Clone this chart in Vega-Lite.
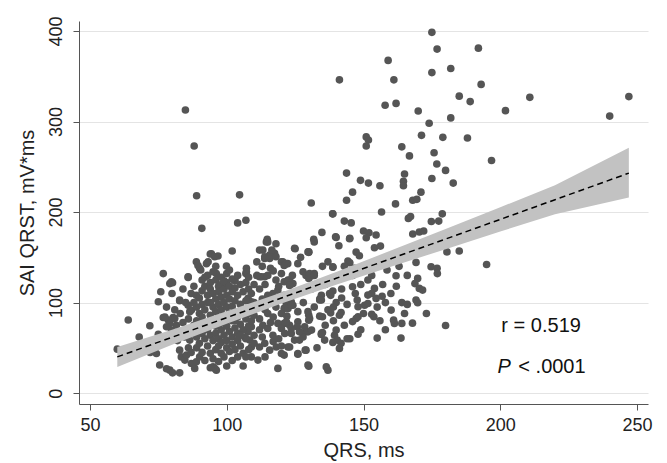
{
"$schema":"https://vega.github.io/schema/vega-lite/v6.json",
"width":569,"height":383,
"autosize":{"type":"none"},
"padding":{"left":79,"top":21,"right":19,"bottom":59},
"config":{"view":{"stroke":null},"font":"Liberation Sans"},
"datasets":{
"pts":[
{"x":84.9,"y":312.7},{"x":88.1,"y":273},{"x":89,"y":218},{"x":90.9,"y":182},{"x":104.7,"y":219},{"x":104,"y":188},{"x":107,"y":191},{"x":130.9,"y":210},{"x":138.8,"y":198},{"x":134.8,"y":177.5},{"x":141.2,"y":346},{"x":114.8,"y":170},{"x":131.8,"y":170},{"x":139.8,"y":172.7},
{"x":159,"y":367.5},{"x":161.1,"y":346},{"x":157.9,"y":318},{"x":161.9,"y":320},{"x":170,"y":311.6},{"x":175,"y":398.5},{"x":176.9,"y":380},{"x":175,"y":354},{"x":181.9,"y":358.5},{"x":192,"y":381},{"x":193,"y":341},{"x":185,"y":328},{"x":189,"y":322},{"x":181.9,"y":304},{"x":174,"y":298},{"x":201.9,"y":312},{"x":210.8,"y":326.7},{"x":240,"y":306},{"x":247,"y":327.5},
{"x":151,"y":283},{"x":151.8,"y":279.6},{"x":151,"y":273},{"x":164,"y":272},{"x":166.8,"y":262},{"x":171.2,"y":284.7},{"x":179,"y":282.5},{"x":188,"y":281.8},{"x":175.8,"y":265.5},{"x":176.8,"y":253},{"x":180,"y":246},{"x":182.8,"y":232},{"x":196.8,"y":257},{"x":175,"y":237},
{"x":143.8,"y":243},{"x":148.9,"y":235},{"x":151.8,"y":232},{"x":156,"y":229},{"x":146,"y":222},{"x":143.8,"y":213},{"x":165,"y":242},{"x":164.6,"y":234},{"x":164.6,"y":229},{"x":171,"y":222},{"x":168,"y":213},{"x":169.5,"y":214},{"x":161.7,"y":209},{"x":156.6,"y":200},{"x":178.8,"y":198},{"x":166.4,"y":193},{"x":167.2,"y":195},{"x":174.8,"y":189.5},{"x":177.5,"y":190},{"x":138.7,"y":198},{"x":143,"y":190},{"x":145.5,"y":188},{"x":140,"y":172},{"x":145,"y":171},{"x":150,"y":179},{"x":152,"y":177},{"x":154.6,"y":174.6},{"x":151,"y":171.6},{"x":168,"y":175.7},{"x":170.4,"y":178},{"x":172,"y":179},
{"x":141,"y":162.8},{"x":125,"y":159.5},{"x":130,"y":155.5},{"x":144.9,"y":170.5},{"x":147.3,"y":155.8},{"x":154,"y":160.6},{"x":156.2,"y":162.4},{"x":180.5,"y":156},{"x":185,"y":157},
{"x":122.3,"y":143},{"x":126,"y":143},{"x":127.9,"y":134},{"x":129,"y":130},{"x":130,"y":126.7},{"x":131.5,"y":130},{"x":138.8,"y":139},{"x":144.3,"y":146},{"x":145,"y":144},{"x":146.7,"y":137.8},{"x":148.5,"y":151.7},{"x":141.2,"y":126},{"x":142,"y":127.5},{"x":146,"y":117.5},{"x":151.6,"y":125},{"x":154,"y":115.7},{"x":153,"y":110},{"x":151.6,"y":108.3},{"x":154.6,"y":104.6},{"x":156.8,"y":107},{"x":147.7,"y":102.8},{"x":148,"y":95.4},{"x":150.4,"y":97},{"x":151.6,"y":99},{"x":161.9,"y":129.6},{"x":158.6,"y":136},{"x":169.2,"y":144.4},{"x":169.8,"y":126.7},{"x":168.8,"y":121},{"x":170.4,"y":115.7},{"x":171.6,"y":113.8},{"x":174.7,"y":139.6},{"x":176.9,"y":137.8},{"x":177,"y":132},{"x":195,"y":142},{"x":166,"y":98},{"x":169.2,"y":102.8},{"x":169.8,"y":99.8},{"x":173,"y":88},{"x":160.1,"y":91.7},{"x":153,"y":87},{"x":153.8,"y":84.3},{"x":161,"y":80.6},{"x":161.3,"y":77},{"x":164,"y":77},{"x":167.9,"y":77.3},{"x":180,"y":74.7},{"x":155,"y":60.8},{"x":163.7,"y":60.8},{"x":146,"y":79},{"x":147.3,"y":82.4},{"x":148,"y":84.3},{"x":138,"y":88.7},{"x":141.2,"y":86},{"x":141.8,"y":89},{"x":134.6,"y":64.8},{"x":135,"y":67},{"x":140,"y":69.6},{"x":139.4,"y":64},{"x":140.4,"y":58.6},{"x":141.8,"y":55},{"x":141.2,"y":49.4},{"x":138.8,"y":56},{"x":137,"y":25.4},{"x":130,"y":29.8},{"x":126,"y":43},{"x":128.7,"y":47.5},{"x":123,"y":51},{"x":121,"y":42},{"x":130,"y":86},{"x":130,"y":80.6},{"x":134,"y":104},{"x":138,"y":108},{"x":138.8,"y":112.7},{"x":123.6,"y":101},{"x":124.2,"y":97},{"x":121,"y":93.6},{"x":121,"y":77},{"x":123,"y":75},{"x":126,"y":78.8},{"x":125.8,"y":73.3},{"x":123.6,"y":66},{"x":127.9,"y":66},{"x":129.7,"y":67.7},{"x":131,"y":69.6},{"x":126.6,"y":58.6},{"x":127.9,"y":62},{"x":134.6,"y":108},
{"x":60,"y":48.6},{"x":64,"y":80.7},{"x":71.9,"y":74.4},{"x":75,"y":101},{"x":75.9,"y":112},{"x":76.8,"y":132},{"x":79.2,"y":121},{"x":80.2,"y":121.9},{"x":82.8,"y":102},{"x":85.9,"y":128.5},{"x":88.9,"y":145},{"x":90.1,"y":137.8},{"x":92.6,"y":143},{"x":94,"y":153.6},{"x":96.8,"y":151.4},{"x":102,"y":157},{"x":99.9,"y":140.3},{"x":107.2,"y":137.8},{"x":107,"y":132},{"x":103,"y":124.9},{"x":112,"y":158},{"x":114.5,"y":167},{"x":118,"y":165},{"x":117.5,"y":154.3},{"x":115.7,"y":150},{"x":113.9,"y":148.8},{"x":120.5,"y":145},{"x":121.8,"y":143},{"x":124.8,"y":160},{"x":130,"y":156},{"x":132,"y":167},{"x":112.7,"y":128.5},{"x":113.9,"y":128.5},{"x":121,"y":123},{"x":123,"y":125},{"x":124.2,"y":121},{"x":130.3,"y":128.5},{"x":132,"y":132},{"x":134.6,"y":102.8},{"x":137.6,"y":110},{"x":138.8,"y":139.5},
{"x":75.5,"y":31},{"x":79.2,"y":25.4},{"x":80.2,"y":22.4},{"x":82.8,"y":22.4},{"x":74.3,"y":43.8},{"x":73.5,"y":53},{"x":76.8,"y":83.6},{"x":78.6,"y":80.7},{"x":80.4,"y":83.6},{"x":81.6,"y":75},{"x":79.8,"y":69.6},{"x":79.2,"y":77},{"x":78,"y":73.3},{"x":82.8,"y":47.5},{"x":83.4,"y":40},{"x":84.7,"y":36.5},{"x":85.3,"y":42},{"x":87.1,"y":32.8},{"x":88.3,"y":27.3},{"x":88.9,"y":34.6},{"x":90.1,"y":40},{"x":95,"y":29},{"x":96.2,"y":25.4},{"x":84.7,"y":62},{"x":86.5,"y":58.6},{"x":87.7,"y":66},{"x":85.3,"y":69.6},{"x":88.9,"y":69.6},
{"x":94.4,"y":154},{"x":95.6,"y":150.6},{"x":93.2,"y":145},{"x":89.5,"y":141},{"x":90.5,"y":136},{"x":96.2,"y":132},{"x":85.9,"y":127.8},{"x":102.9,"y":124},{"x":79.8,"y":123},{"x":107.2,"y":134},{"x":82.8,"y":102.8},{"x":88.9,"y":108},{"x":85.9,"y":97},{"x":86.5,"y":90},{"x":77.4,"y":84},{"x":81,"y":82.5},{"x":78,"y":27},{"x":95.6,"y":27.3},
{"x":113.9,"y":150.6},{"x":115.7,"y":152.5},{"x":115,"y":167},{"x":129.7,"y":156},{"x":120,"y":145},{"x":121,"y":141},{"x":112,"y":128.5},{"x":122.4,"y":125},{"x":123,"y":119},{"x":130.3,"y":132},{"x":132,"y":130},{"x":118.7,"y":113.8},{"x":116.9,"y":110},{"x":115,"y":108},{"x":107.8,"y":104.6},{"x":109,"y":101},{"x":110.2,"y":95.4},{"x":121.8,"y":99},{"x":122.4,"y":93.6},{"x":123.6,"y":97},{"x":129.7,"y":90},{"x":130.3,"y":82.5},{"x":134,"y":102.8},{"x":109,"y":73.3},{"x":107.8,"y":67.7},{"x":106.6,"y":62},{"x":108.4,"y":58.6},{"x":109,"y":51},{"x":113.2,"y":75},{"x":115,"y":71.4},{"x":116.9,"y":64},{"x":118.7,"y":77},{"x":120,"y":71.4},{"x":121.8,"y":78.8},{"x":121.2,"y":66},{"x":123.6,"y":71.4},{"x":124.8,"y":58.6},{"x":126.6,"y":67.7},{"x":128.5,"y":73.3},{"x":112,"y":51},{"x":113.9,"y":55},{"x":115.7,"y":47.5},{"x":118.1,"y":51},{"x":120,"y":43.8},{"x":122.4,"y":51},{"x":126,"y":43.8},{"x":129,"y":47.5},{"x":111.4,"y":36.5},{"x":118.7,"y":27.3},{"x":129.7,"y":31},{"x":136.4,"y":29},{"x":134.6,"y":66},{"x":135.8,"y":58.6},{"x":135,"y":84.3},{"x":116.5,"y":158},{"x":113.2,"y":158},{"x":115.7,"y":148.8},{"x":118,"y":150.6},{"x":87.1,"y":91.7},
{"x":88,"y":118},{"x":89,"y":95},{"x":89,"y":80},{"x":89,"y":62},{"x":89,"y":50},{"x":90,"y":105},{"x":90,"y":88},{"x":90,"y":72},{"x":90,"y":55},{"x":91,"y":125},{"x":91,"y":113},{"x":91,"y":98},{"x":91,"y":84},{"x":91,"y":66},{"x":91,"y":45},{"x":92,"y":118},{"x":92,"y":92},{"x":92,"y":77},{"x":92,"y":60},{"x":92,"y":36},{"x":93,"y":130},{"x":93,"y":108},{"x":93,"y":100},{"x":93,"y":70},{"x":93,"y":52},{"x":94,"y":122},{"x":94,"y":115},{"x":94,"y":86},{"x":94,"y":64},{"x":94,"y":44},{"x":94,"y":28},{"x":95,"y":134},{"x":95,"y":110},{"x":95,"y":95},{"x":95,"y":80},{"x":95,"y":58},{"x":95,"y":38},{"x":96,"y":125},{"x":96,"y":104},{"x":96,"y":90},{"x":96,"y":74},{"x":96,"y":66},{"x":96,"y":48},{"x":97,"y":118},{"x":97,"y":112},{"x":97,"y":98},{"x":97,"y":84},{"x":97,"y":60},{"x":97,"y":52},{"x":97,"y":35},{"x":98,"y":128},{"x":98,"y":120},{"x":98,"y":106},{"x":98,"y":92},{"x":98,"y":78},{"x":98,"y":70},{"x":98,"y":56},{"x":98,"y":44},{"x":99,"y":115},{"x":99,"y":100},{"x":99,"y":86},{"x":99,"y":64},{"x":99,"y":40},{"x":100,"y":132},{"x":100,"y":122},{"x":100,"y":108},{"x":100,"y":95},{"x":100,"y":82},{"x":100,"y":74},{"x":100,"y":58},{"x":100,"y":50},{"x":100,"y":30},{"x":101,"y":118},{"x":101,"y":104},{"x":101,"y":88},{"x":101,"y":68},{"x":101,"y":46},{"x":102,"y":126},{"x":102,"y":112},{"x":102,"y":96},{"x":102,"y":80},{"x":102,"y":62},{"x":102,"y":54},{"x":102,"y":36},{"x":103,"y":116},{"x":103,"y":102},{"x":103,"y":90},{"x":103,"y":72},{"x":103,"y":48},{"x":104,"y":130},{"x":104,"y":108},{"x":104,"y":84},{"x":104,"y":66},{"x":104,"y":58},{"x":104,"y":40},{"x":105,"y":120},{"x":105,"y":98},{"x":105,"y":76},{"x":105,"y":52},{"x":106,"y":112},{"x":106,"y":90},{"x":106,"y":70},{"x":106,"y":44},{"x":106,"y":30},{"x":107,"y":122},{"x":107,"y":102},{"x":107,"y":82},{"x":107,"y":60},{"x":108,"y":115},{"x":108,"y":88},{"x":108,"y":74},{"x":108,"y":48},{"x":109,"y":110},{"x":109,"y":94},{"x":109,"y":80},{"x":109,"y":40},{"x":110,"y":120},{"x":110,"y":86},{"x":110,"y":64},{"x":110,"y":55},
{"x":111,"y":130},{"x":112,"y":115},{"x":112,"y":98},{"x":112,"y":82},{"x":113,"y":140},{"x":113,"y":104},{"x":113,"y":62},{"x":114,"y":92},{"x":114,"y":120},{"x":115,"y":88},{"x":115,"y":130},{"x":116,"y":78},{"x":116,"y":100},{"x":116,"y":138},{"x":117,"y":57},{"x":117,"y":84},{"x":118,"y":125},{"x":118,"y":95},{"x":119,"y":105},{"x":119,"y":60},{"x":120,"y":132},{"x":120,"y":88},{"x":120,"y":52},
{"x":68,"y":62},{"x":70,"y":55},{"x":72,"y":45},{"x":75,"y":65},{"x":77,"y":58},{"x":78,"y":95},{"x":80,"y":110},{"x":81,"y":92},{"x":82,"y":58},{"x":83,"y":88},{"x":84,"y":115},{"x":84,"y":78},{"x":85,"y":100},{"x":86,"y":82},{"x":86,"y":50},{"x":87,"y":110},{"x":87,"y":45},{"x":88,"y":75},{"x":88,"y":100},
{"x":132,"y":95},{"x":133,"y":118},{"x":135,"y":140},{"x":136,"y":120},{"x":137,"y":92},{"x":139,"y":80},{"x":140,"y":100},{"x":142,"y":115},{"x":143,"y":75},{"x":144,"y":98},{"x":145,"y":60},{"x":146,"y":130},{"x":148,"y":65},{"x":149,"y":120},{"x":150,"y":88},{"x":152,"y":140},{"x":155,"y":95},{"x":157,"y":120},{"x":158,"y":70},{"x":159,"y":150},{"x":160,"y":110},{"x":163,"y":140},{"x":165,"y":88},
{"x":111,"y":145},{"x":112,"y":70},{"x":114,"y":40},{"x":117,"y":135},{"x":119,"y":118},{"x":121,"y":108},{"x":122,"y":85},{"x":124,"y":130},{"x":125,"y":110},{"x":126,"y":90},{"x":127,"y":150},{"x":128,"y":100},{"x":131,"y":115},{"x":133,"y":50},{"x":134,"y":85},{"x":136,"y":75},{"x":137,"y":145},{"x":139,"y":95},{"x":142,"y":105},{"x":143,"y":140},{"x":144,"y":60},{"x":147,"y":110},{"x":149,"y":70},{"x":150,"y":140},{"x":153,"y":130},{"x":156,"y":80},{"x":158,"y":100},{"x":162,"y":118},{"x":164,"y":100},{"x":166,"y":130},
{"x":92,"y":128},{"x":94,"y":100},{"x":96,"y":140},{"x":97,"y":75},{"x":99,"y":124},{"x":101,"y":136},{"x":103,"y":80},{"x":105,"y":88},{"x":105,"y":64},{"x":107,"y":40},{"x":108,"y":128},{"x":110,"y":100}
],
"fit":[
{"x":60,"fit":40,"lo":29,"hi":51},{"x":80,"fit":61.7,"lo":53.5,"hi":70},{"x":100,"fit":83.4,"lo":76.5,"hi":90.3},{"x":120,"fit":105.1,"lo":99,"hi":111.2},{"x":140,"fit":126.8,"lo":119.8,"hi":133.8},{"x":160,"fit":148.5,"lo":139.5,"hi":157.5},{"x":180,"fit":170.2,"lo":159,"hi":181.4},{"x":200,"fit":191.9,"lo":178.5,"hi":205.3},{"x":220,"fit":213.6,"lo":197.5,"hi":229.7},{"x":247,"fit":243,"lo":216,"hi":271}
],
"lab":[{"x":200.4,"y":74,"t":"r = 0.519"},{"x":206.6,"y":29,"t":"< .0001"}],
"labi":[{"x":199,"y":29,"t":"P"}]
},
"layer":[
{"data":{"name":"pts"},"mark":{"type":"circle","size":58,"color":"#555555","opacity":1},
"encoding":{
"x":{"field":"x","type":"quantitative","scale":{"domain":[46,254],"nice":false,"zero":false},
"axis":{"title":"QRS, ms","values":[50,100,150,200,250],"grid":false,"tickSize":6,"labelFontSize":18,"titleFontSize":20,"titleFontWeight":"normal","labelPadding":6,"titlePadding":6,"domainColor":"#555","tickColor":"#555","labelColor":"#222","titleColor":"#222","labelFlush":false}},
"y":{"field":"y","type":"quantitative","scale":{"domain":[-12,411],"nice":false,"zero":false},
"axis":{"title":"SAI QRST, mV*ms","values":[0,100,200,300,400],"grid":true,"gridColor":"#e4e4e4","gridWidth":1.2,"tickSize":6,"labelFontSize":18,"titleFontSize":20,"titleFontWeight":"normal","labelAngle":-90,"labelAlign":"center","labelBaseline":"bottom","labelPadding":8,"titlePadding":10,"domainColor":"#555","tickColor":"#555","labelColor":"#222","titleColor":"#222","labelFlush":false}}}},
{"data":{"name":"fit"},"mark":{"type":"area","color":"#c2c2c2","opacity":1},
"encoding":{"x":{"field":"x","type":"quantitative"},"y":{"field":"lo","type":"quantitative"},"y2":{"field":"hi"}}},
{"data":{"name":"fit"},"mark":{"type":"line","color":"#000000","strokeDash":[6,4],"strokeWidth":1.5},
"encoding":{"x":{"field":"x","type":"quantitative"},"y":{"field":"fit","type":"quantitative"}}},
{"data":{"name":"lab"},"mark":{"type":"text","align":"left","baseline":"middle","fontSize":20,"color":"#111"},
"encoding":{"x":{"field":"x","type":"quantitative"},"y":{"field":"y","type":"quantitative"},"text":{"field":"t"}}},
{"data":{"name":"labi"},"mark":{"type":"text","align":"left","baseline":"middle","fontSize":20,"fontStyle":"italic","color":"#111"},
"encoding":{"x":{"field":"x","type":"quantitative"},"y":{"field":"y","type":"quantitative"},"text":{"field":"t"}}}
]
}
